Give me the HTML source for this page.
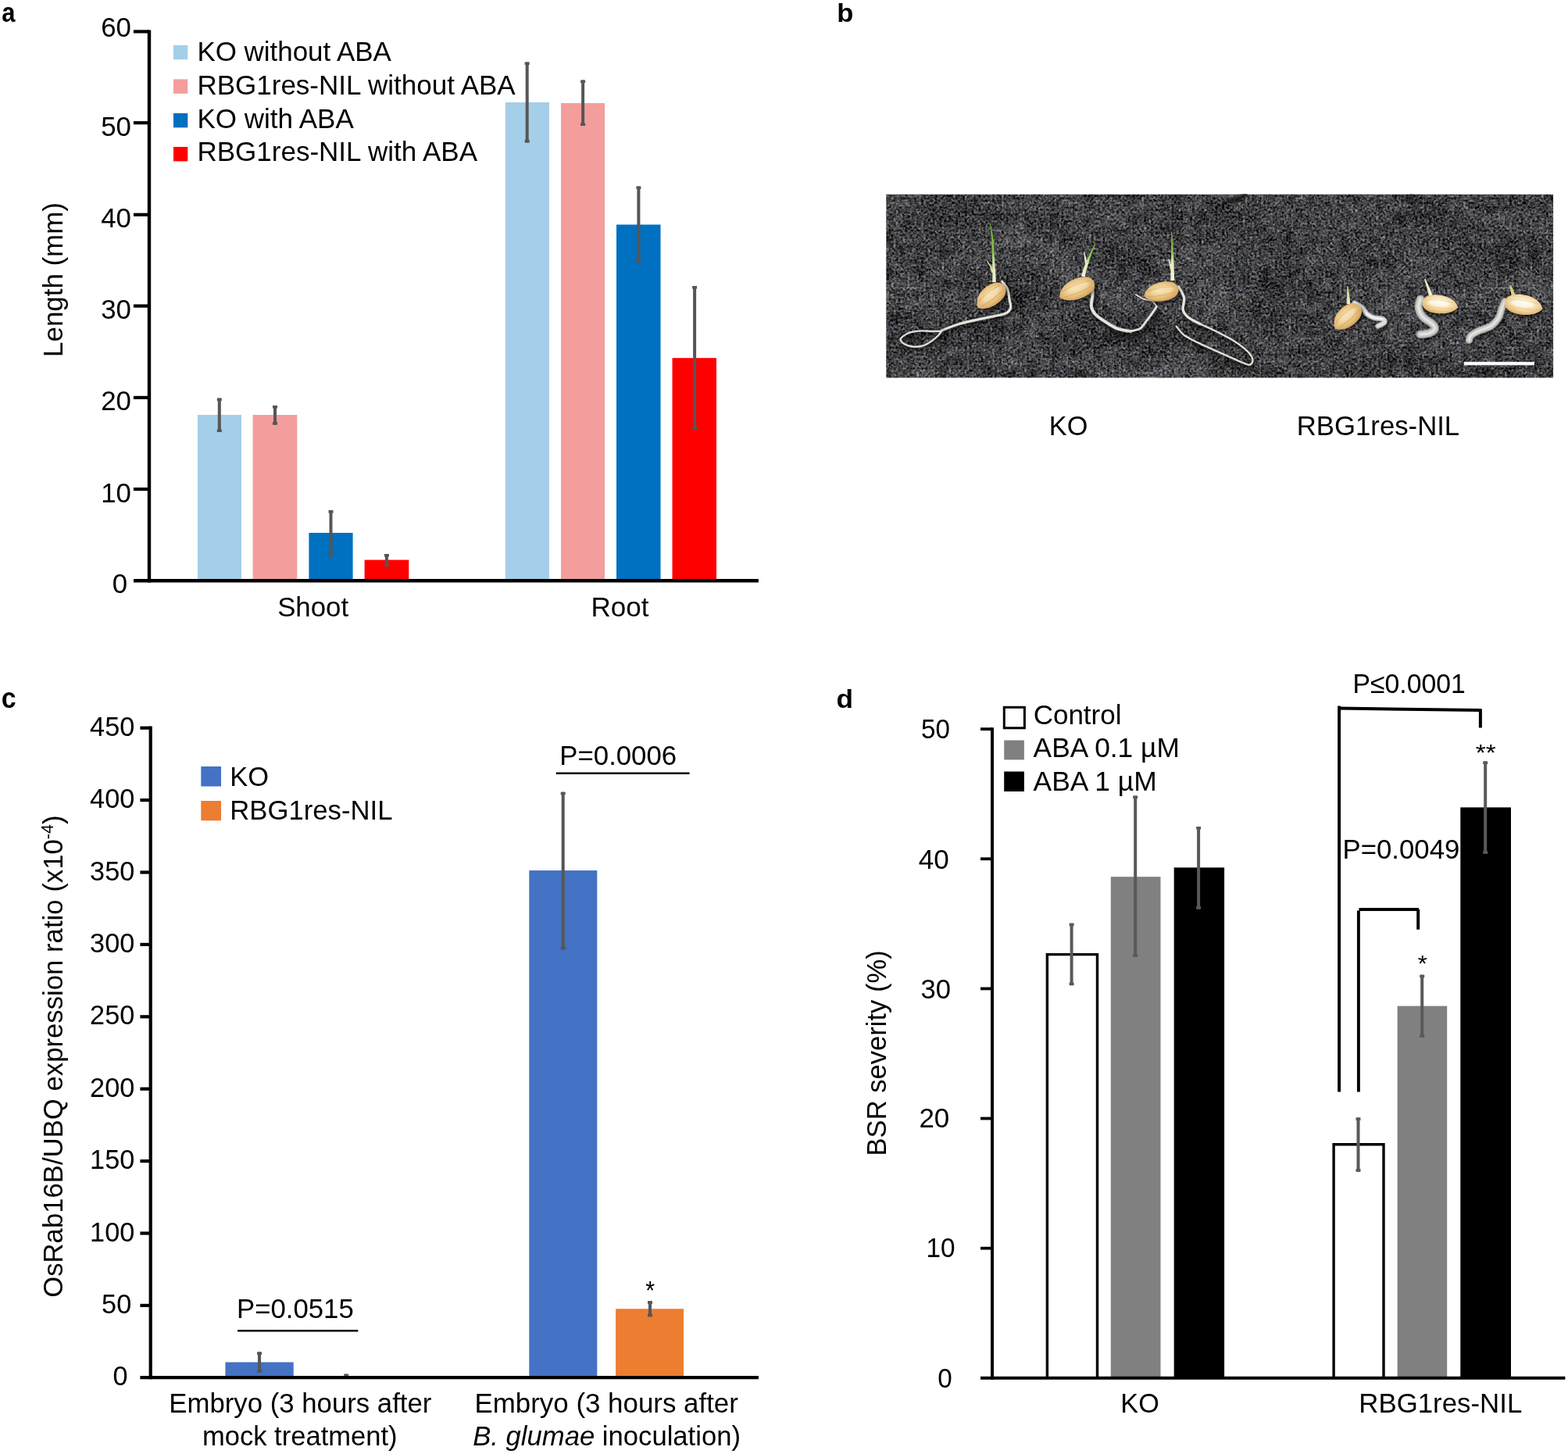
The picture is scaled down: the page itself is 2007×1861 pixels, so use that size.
<!DOCTYPE html>
<html lang="en">
<head>
<meta charset="utf-8">
<title>Figure</title>
<style>
html,body{margin:0;padding:0;background:#fff;}
body{width:2007px;height:1861px;overflow:hidden;}
svg{display:block;}
svg text{font-family:"Liberation Sans",sans-serif;fill:#000;}
</style>
</head>
<body>
<svg width="2007" height="1861" viewBox="0 0 2007 1861">
<defs>
<filter id="grain" x="0" y="0" width="100%" height="100%" color-interpolation-filters="sRGB">
<feTurbulence type="fractalNoise" baseFrequency="0.34" numOctaves="3" seed="11" result="fine"/>
<feColorMatrix in="fine" type="matrix" values="0.56 0.42 0.42 0 -0.450  0.42 0.56 0.42 0 -0.450  0.42 0.42 0.56 0 -0.440  0 0 0 0 1" result="finec"/>
<feTurbulence type="fractalNoise" baseFrequency="0.07" numOctaves="2" seed="5" result="med"/>
<feColorMatrix in="med" type="matrix" values="0.5 0.5 0 0 0  0.5 0.5 0 0 0  0.5 0.5 0 0 0  0 0 0 0 1" result="medc"/>
<feComposite in="finec" in2="medc" operator="arithmetic" k1="0" k2="1" k3="0.34" k4="-0.17" result="mix"/>
<feTurbulence type="fractalNoise" baseFrequency="0.012 0.02" numOctaves="2" seed="3" result="big"/>
<feColorMatrix in="big" type="matrix" values="0.5 0.5 0 0 0  0.5 0.5 0 0 0  0.5 0.5 0 0 0  0 0 0 0 1" result="bigc"/>
<feComposite in="mix" in2="bigc" operator="arithmetic" k1="0" k2="1" k3="0.22" k4="-0.11" result="mix2"/>
<feGaussianBlur in="mix2" stdDeviation="0.4"/>
</filter>

<filter id="soft0" x="-5%" y="-5%" width="110%" height="110%"><feGaussianBlur stdDeviation="0.55"/></filter>
<filter id="soft1" x="-30%" y="-30%" width="160%" height="160%"><feGaussianBlur stdDeviation="1.6"/></filter>
<filter id="soft2" x="-30%" y="-30%" width="160%" height="160%"><feGaussianBlur stdDeviation="2.2"/></filter>
<radialGradient id="seedD" cx="0.5" cy="0.42" r="0.62"><stop offset="0" stop-color="#f6e0ae"/><stop offset="0.55" stop-color="#eac585"/><stop offset="1" stop-color="#cf9c52"/></radialGradient>
<radialGradient id="seedL" cx="0.5" cy="0.4" r="0.62"><stop offset="0" stop-color="#fff8e8"/><stop offset="0.6" stop-color="#f3d9a4"/><stop offset="1" stop-color="#dcab62"/></radialGradient>
<linearGradient id="shoot1" gradientUnits="userSpaceOnUse" x1="0" y1="362" x2="0" y2="286"><stop offset="0" stop-color="#f1f0d4"/><stop offset="0.3" stop-color="#dfe8b4"/><stop offset="0.5" stop-color="#8fc550"/><stop offset="1" stop-color="#6fb232"/></linearGradient>
<linearGradient id="shoot2" gradientUnits="userSpaceOnUse" x1="0" y1="355" x2="0" y2="312"><stop offset="0" stop-color="#f1f0d8"/><stop offset="0.4" stop-color="#e4ebbc"/><stop offset="0.62" stop-color="#93c754"/><stop offset="1" stop-color="#72b436"/></linearGradient>
<linearGradient id="shoot3" gradientUnits="userSpaceOnUse" x1="0" y1="360" x2="0" y2="296"><stop offset="0" stop-color="#f3f2dc"/><stop offset="0.38" stop-color="#e6edc2"/><stop offset="0.55" stop-color="#92c653"/><stop offset="1" stop-color="#70b334"/></linearGradient>
<linearGradient id="shoot4" gradientUnits="userSpaceOnUse" x1="0" y1="389" x2="0" y2="366"><stop offset="0" stop-color="#eef0cc"/><stop offset="0.5" stop-color="#cfe09a"/><stop offset="1" stop-color="#a9cd6c"/></linearGradient>

<clipPath id="photoclip"><rect x="1134.3" y="248.7" width="853.8" height="234.9"/></clipPath>
</defs>
<rect width="2007" height="1861" fill="#fff"/>
<g id="panel-a">
<text transform="translate(2.27 27.65) scale(0.8841 1.0130)" font-size="35" font-weight="bold">a</text>
<rect x="252.9" y="531" width="56.1" height="212.2" fill="#A5CEE9"/>
<rect x="323.6" y="531" width="56.7" height="212.2" fill="#F39D9C"/>
<rect x="395.4" y="682" width="56.2" height="61.2" fill="#0070C0"/>
<rect x="466.6" y="716.6" width="56.7" height="26.6" fill="#FF0000"/>
<rect x="646.8" y="131" width="56.2" height="612.2" fill="#A5CEE9"/>
<rect x="718" y="132" width="56" height="611.2" fill="#F39D9C"/>
<rect x="789" y="287.5" width="56.5" height="455.7" fill="#0070C0"/>
<rect x="860.5" y="458.2" width="56.5" height="285" fill="#FF0000"/>
<line x1="280.8" y1="509.6" x2="280.8" y2="553" stroke="#565656" stroke-width="4"/>
<rect x="277.8" y="509.6" width="6" height="3.6" fill="#565656"/>
<rect x="277.8" y="549.4" width="6" height="3.6" fill="#565656"/>
<line x1="352" y1="519" x2="352" y2="543.7" stroke="#565656" stroke-width="4"/>
<rect x="349" y="519" width="6" height="3.6" fill="#565656"/>
<rect x="349" y="540.1" width="6" height="3.6" fill="#565656"/>
<line x1="423.5" y1="653.1" x2="423.5" y2="712.2" stroke="#565656" stroke-width="4"/>
<rect x="420.5" y="653.1" width="6" height="3.6" fill="#565656"/>
<rect x="420.5" y="708.6" width="6" height="3.6" fill="#565656"/>
<line x1="494.9" y1="709" x2="494.9" y2="725" stroke="#565656" stroke-width="4"/>
<rect x="491.9" y="709" width="6" height="3.6" fill="#565656"/>
<rect x="491.9" y="721.4" width="6" height="3.6" fill="#565656"/>
<line x1="674.7" y1="79.5" x2="674.7" y2="182.5" stroke="#565656" stroke-width="4"/>
<rect x="671.7" y="79.5" width="6" height="3.6" fill="#565656"/>
<rect x="671.7" y="178.9" width="6" height="3.6" fill="#565656"/>
<line x1="746.1" y1="102.5" x2="746.1" y2="161" stroke="#565656" stroke-width="4"/>
<rect x="743.1" y="102.5" width="6" height="3.6" fill="#565656"/>
<rect x="743.1" y="157.4" width="6" height="3.6" fill="#565656"/>
<line x1="817.4" y1="238.5" x2="817.4" y2="336.5" stroke="#565656" stroke-width="4"/>
<rect x="814.4" y="238.5" width="6" height="3.6" fill="#565656"/>
<rect x="814.4" y="332.9" width="6" height="3.6" fill="#565656"/>
<line x1="889.1" y1="366" x2="889.1" y2="549.8" stroke="#565656" stroke-width="4"/>
<rect x="886.1" y="366" width="6" height="3.6" fill="#565656"/>
<rect x="886.1" y="546.2" width="6" height="3.6" fill="#565656"/>
<line x1="191" y1="38.5" x2="191" y2="745.4" stroke="#000" stroke-width="4.4"/>
<line x1="171" y1="743.2" x2="970.9" y2="743.2" stroke="#000" stroke-width="4.4"/>
<text transform="translate(143.87 758.9) scale(0.9950 1)" font-size="35">0</text>
<line x1="170.9" y1="626.1" x2="191" y2="626.1" stroke="#000" stroke-width="4.2"/>
<text transform="translate(129.26 642.5) scale(0.9950 1)" font-size="35">10</text>
<line x1="170.9" y1="508.9" x2="191" y2="508.9" stroke="#000" stroke-width="4.2"/>
<text transform="translate(129.26 525.2) scale(0.9950 1)" font-size="35">20</text>
<line x1="170.9" y1="391.6" x2="191" y2="391.6" stroke="#000" stroke-width="4.2"/>
<text transform="translate(129.26 408.2) scale(0.9950 1)" font-size="35">30</text>
<line x1="170.9" y1="274.8" x2="191" y2="274.8" stroke="#000" stroke-width="4.2"/>
<text transform="translate(129.26 291.1) scale(0.9950 1)" font-size="35">40</text>
<line x1="170.9" y1="157.2" x2="191" y2="157.2" stroke="#000" stroke-width="4.2"/>
<text transform="translate(129.26 174.2) scale(0.9950 1)" font-size="35">50</text>
<line x1="170.9" y1="40.4" x2="191" y2="40.4" stroke="#000" stroke-width="4.2"/>
<text transform="translate(129.26 46.6) scale(0.9950 1)" font-size="35">60</text>
<rect x="222" y="57.8" width="18.3" height="18.4" fill="#A5CEE9"/>
<text transform="translate(252.41 77.8) scale(0.9841 1)" font-size="35.5">KO without ABA</text>
<rect x="222" y="101.4" width="18.3" height="18.4" fill="#F39D9C"/>
<text transform="translate(252.4 121) scale(0.9865 1)" font-size="35.5">RBG1res-NIL without ABA</text>
<rect x="222" y="144.9" width="18.3" height="18.4" fill="#0070C0"/>
<text transform="translate(252.4 163.6) scale(0.9859 1)" font-size="35.5">KO with ABA</text>
<rect x="222" y="188" width="18.3" height="18.4" fill="#FF0000"/>
<text transform="translate(252.4 206.1) scale(0.9867 1)" font-size="35.5">RBG1res-NIL with ABA</text>
<text transform="translate(355.13 788.7) scale(0.9815 1)" font-size="35.5">Shoot</text>
<text transform="translate(756.5 788.6) scale(0.9863 1)" font-size="35.5">Root</text>
<text transform="translate(80 456.89) rotate(-90) scale(0.9825 1)" font-size="35.5">Length (mm)</text>
</g>
<g id="panel-b">
<text transform="translate(1071.15 27.66) scale(0.9901 0.9757)" font-size="35" font-weight="bold">b</text>
<g clip-path="url(#photoclip)">
<rect x="1134.3" y="248.7" width="853.8" height="234.9" fill="#404040" filter="url(#grain)"/>
<g filter="url(#soft0)">
<path d="M1573 257 C1574.2 256.9 1577.5 257.2 1580 256.5 C1582.5 255.8 1585.7 254.2 1588 253 C1590.3 251.8 1593 250.1 1594 249.5" fill="none" stroke="#0c0c0c" stroke-width="5" stroke-linecap="round" stroke-linejoin="round" opacity="0.85" filter="url(#soft1)"/>
<path d="M1806 249 C1806.2 250.2 1806.8 253.5 1807.5 256 C1808.2 258.5 1809.6 262.7 1810 264" fill="none" stroke="#101010" stroke-width="3.5" stroke-linecap="round" stroke-linejoin="round" opacity="0.75" filter="url(#soft1)"/>
<path d="M1284.1 363.4 C1285.2 365 1289.3 369.1 1290.9 372.9 C1292.5 376.7 1292.9 382.3 1293.6 386.4 C1294.3 390.5 1295.8 394.4 1295 397.3 C1294.2 400.2 1292.2 402.3 1288.9 404 C1285.6 405.7 1281 406.1 1275.4 407.4 C1269.8 408.6 1262.8 409.8 1255.1 411.5 C1247.4 413.2 1236.1 415.7 1229.3 417.6 C1222.5 419.5 1218.5 421.4 1214.5 423 C1210.5 424.6 1206.6 426.3 1205 427" fill="none" stroke="#0a0a0a" stroke-width="5.9" stroke-linecap="round" stroke-linejoin="round" opacity="0.55" filter="url(#soft2)"/>
<path d="M1282.6 360.4 C1283.7 362 1287.8 366.1 1289.4 369.9 C1291 373.7 1291.4 379.3 1292.1 383.4 C1292.8 387.5 1294.3 391.4 1293.5 394.3 C1292.7 397.2 1290.7 399.3 1287.4 401 C1284.1 402.7 1279.5 403.1 1273.9 404.4 C1268.3 405.6 1261.3 406.8 1253.6 408.5 C1245.9 410.2 1234.6 412.7 1227.8 414.6 C1221 416.5 1217 418.4 1213 420 C1209 421.6 1205.1 423.3 1203.5 424" fill="none" stroke="#cfcfc8" stroke-width="3.4" stroke-linecap="round" stroke-linejoin="round"/>
<path d="M1282.6 360.4 C1283.7 362 1287.8 366.1 1289.4 369.9 C1291 373.7 1291.4 379.3 1292.1 383.4 C1292.8 387.5 1294.3 391.4 1293.5 394.3 C1292.7 397.2 1290.7 399.3 1287.4 401 C1284.1 402.7 1279.5 403.1 1273.9 404.4 C1268.3 405.6 1261.3 406.8 1253.6 408.5 C1245.9 410.2 1234.6 412.7 1227.8 414.6 C1221 416.5 1217 418.4 1213 420 C1209 421.6 1205.1 423.3 1203.5 424" fill="none" stroke="#f2f2ec" stroke-width="1.36" stroke-linecap="round" stroke-linejoin="round" opacity="0.9"/>
<path d="M1205 427 C1203.2 427 1198.3 427.1 1194.2 427 C1190.1 426.9 1185.1 426.2 1180.6 426.4 C1176.1 426.6 1170.9 427.3 1167.1 428.4 C1163.3 429.5 1159.8 431.5 1157.6 433.1 C1155.4 434.7 1154 436.2 1154.2 437.9 C1154.4 439.6 1156.4 441.8 1159 443.3 C1161.6 444.8 1165.8 446.4 1169.8 446.7 C1173.8 447 1179.2 446.6 1183.3 445.3 C1187.4 444.1 1191 441.3 1194.2 439.2 C1197.4 437.1 1200 434.8 1202.3 432.5 C1204.5 430.2 1206.8 426.8 1207.7 425.7" fill="none" stroke="#0a0a0a" stroke-width="4.9" stroke-linecap="round" stroke-linejoin="round" opacity="0.55" filter="url(#soft2)"/>
<path d="M1203.5 424 C1201.7 424 1196.8 424.1 1192.7 424 C1188.6 423.9 1183.6 423.2 1179.1 423.4 C1174.6 423.6 1169.4 424.3 1165.6 425.4 C1161.8 426.5 1158.2 428.5 1156.1 430.1 C1153.9 431.7 1152.5 433.2 1152.7 434.9 C1152.9 436.6 1154.9 438.8 1157.5 440.3 C1160.1 441.8 1164.2 443.4 1168.3 443.7 C1172.3 444 1177.7 443.6 1181.8 442.3 C1185.9 441.1 1189.5 438.3 1192.7 436.2 C1195.9 434.1 1198.5 431.8 1200.8 429.5 C1203 427.2 1205.3 423.8 1206.2 422.7" fill="none" stroke="#cfcfc8" stroke-width="2.4" stroke-linecap="round" stroke-linejoin="round"/>
<path d="M1203.5 424 C1201.7 424 1196.8 424.1 1192.7 424 C1188.6 423.9 1183.6 423.2 1179.1 423.4 C1174.6 423.6 1169.4 424.3 1165.6 425.4 C1161.8 426.5 1158.2 428.5 1156.1 430.1 C1153.9 431.7 1152.5 433.2 1152.7 434.9 C1152.9 436.6 1154.9 438.8 1157.5 440.3 C1160.1 441.8 1164.2 443.4 1168.3 443.7 C1172.3 444 1177.7 443.6 1181.8 442.3 C1185.9 441.1 1189.5 438.3 1192.7 436.2 C1195.9 434.1 1198.5 431.8 1200.8 429.5 C1203 427.2 1205.3 423.8 1206.2 422.7" fill="none" stroke="#f2f2ec" stroke-width="0.96" stroke-linecap="round" stroke-linejoin="round" opacity="0.9"/>
<path d="M1272.1 348 L1268.9 340.5 L1263.4 333.3 L1262.6 333.9 L1267.1 341.5 L1269.1 349Z" fill="#cfe0a0"/>
<path d="M1274.9 360.9 L1274.1 347.9 L1273.2 334.6 L1271.8 307.9 L1269.8 295.9 L1267.5 285.9 L1266.7 286.1 L1268.2 296.1 L1269.4 308.1 L1270.2 334.8 L1270.3 348.1 L1270.3 361.1Z" fill="url(#shoot1)"/>
<g transform="translate(1268.4 378.7) rotate(-37.6)">
<ellipse cx="1.5" cy="3.5" rx="21.1" ry="12.2" fill="#000" opacity="0.5" filter="url(#soft2)"/>
<path d="M-22.8 1.5 C-18.3 -9.6 -7.5 -13.1 3.2 -12.8 C15 -12.5 21.5 -7 21.5 0 C21.5 7.7 14 12.8 2.1 12.8 C-8.6 12.8 -18.3 9 -22.8 1.5Z" fill="url(#seedD)"/>
<path d="M-17.2 -3.8 Q0 -7.3 17.2 -3.8" fill="none" stroke="#c8975a" stroke-width="1.1" opacity="0.6"/>
<path d="M-17.2 3.4 Q0 6.6 17.2 3.4" fill="none" stroke="#c8975a" stroke-width="1.1" opacity="0.6"/>
<ellipse cx="1.1" cy="-1.5" rx="13.3" ry="4.4" fill="#f7e3b8" opacity="0.7" filter="url(#soft1)"/>
</g>
<path d="M1401.5 370.3 C1401.4 372.6 1401.1 379.6 1400.8 384.3 C1400.5 389 1398.8 394.4 1399.4 398.4 C1400 402.4 1401.6 405.1 1404.3 408.2 C1407 411.2 1410.9 413.6 1415.6 416.7 C1420.3 419.8 1426.8 424.3 1432.4 426.5 C1438 428.7 1446.5 429.4 1449.3 430" fill="none" stroke="#0a0a0a" stroke-width="6.7" stroke-linecap="round" stroke-linejoin="round" opacity="0.55" filter="url(#soft2)"/>
<path d="M1399 364.3 C1398.9 366.6 1398.6 373.6 1398.3 378.3 C1398 383 1396.3 388.4 1396.9 392.4 C1397.5 396.4 1399.1 399.1 1401.8 402.2 C1404.5 405.2 1408.4 407.6 1413.1 410.7 C1417.8 413.8 1424.3 418.3 1429.9 420.5 C1435.5 422.7 1444 423.4 1446.8 424" fill="none" stroke="#cfcfc8" stroke-width="4.2" stroke-linecap="round" stroke-linejoin="round"/>
<path d="M1399 364.3 C1398.9 366.6 1398.6 373.6 1398.3 378.3 C1398 383 1396.3 388.4 1396.9 392.4 C1397.5 396.4 1399.1 399.1 1401.8 402.2 C1404.5 405.2 1408.4 407.6 1413.1 410.7 C1417.8 413.8 1424.3 418.3 1429.9 420.5 C1435.5 422.7 1444 423.4 1446.8 424" fill="none" stroke="#f2f2ec" stroke-width="1.6800000000000002" stroke-linecap="round" stroke-linejoin="round" opacity="0.9"/>
<path d="M1449.3 430 C1451.4 429.4 1458.6 428.5 1461.9 426.5 C1465.2 424.5 1466.3 421.4 1468.9 418.1 C1471.5 414.8 1475.1 410.1 1477.4 406.8 C1479.8 403.5 1482.1 399.8 1483 398.4" fill="none" stroke="#0a0a0a" stroke-width="5.5" stroke-linecap="round" stroke-linejoin="round" opacity="0.55" filter="url(#soft2)"/>
<path d="M1446.8 424 C1448.9 423.4 1456.1 422.5 1459.4 420.5 C1462.7 418.5 1463.8 415.4 1466.4 412.1 C1469 408.8 1472.6 404.1 1474.9 400.8 C1477.2 397.5 1479.6 393.8 1480.5 392.4" fill="none" stroke="#cfcfc8" stroke-width="3.0" stroke-linecap="round" stroke-linejoin="round"/>
<path d="M1446.8 424 C1448.9 423.4 1456.1 422.5 1459.4 420.5 C1462.7 418.5 1463.8 415.4 1466.4 412.1 C1469 408.8 1472.6 404.1 1474.9 400.8 C1477.2 397.5 1479.6 393.8 1480.5 392.4" fill="none" stroke="#f2f2ec" stroke-width="1.2000000000000002" stroke-linecap="round" stroke-linejoin="round" opacity="0.9"/>
<path d="M1480.5 392.4 C1479.6 391.2 1477.7 387 1474.9 385.4 C1472.1 383.8 1467.1 384 1463.6 382.6 C1460.1 381.2 1455.4 377.8 1453.8 376.9" fill="none" stroke="#cfcfc8" stroke-width="1.8" stroke-linecap="round" stroke-linejoin="round"/>
<path d="M1480.5 392.4 C1479.6 391.2 1477.7 387 1474.9 385.4 C1472.1 383.8 1467.1 384 1463.6 382.6 C1460.1 381.2 1455.4 377.8 1453.8 376.9" fill="none" stroke="#f2f2ec" stroke-width="0.8" stroke-linecap="round" stroke-linejoin="round" opacity="0.9"/>
<path d="M1392 337.7 L1390 329.8 L1388.1 322.2 L1387.1 322.4 L1388 330.2 L1389 338.3Z" fill="#eef0d2"/>
<path d="M1388.6 354.6 L1390.6 345.6 L1393.6 335.4 L1397.1 325.5 L1400.1 317.3 L1402.2 312.2 L1401.4 311.8 L1398.7 316.7 L1394.9 324.5 L1390.4 334.2 L1386.6 344.4 L1383.8 353.4Z" fill="url(#shoot2)"/>
<g transform="translate(1378.6 369.9) rotate(-22)">
<ellipse cx="1.5" cy="3.5" rx="23" ry="12.3" fill="#000" opacity="0.5" filter="url(#soft2)"/>
<path d="M-24.9 1.6 C-20 -9.8 -8.2 -13.3 3.5 -13 C16.4 -12.7 23.5 -7.2 23.5 0 C23.5 7.8 15.3 13 2.4 13 C-9.4 13 -20 9.1 -24.9 1.6Z" fill="url(#seedD)"/>
<path d="M-18.8 -3.8 Q0 -7.4 18.8 -3.8" fill="none" stroke="#c8975a" stroke-width="1.1" opacity="0.6"/>
<path d="M-18.8 3.5 Q0 6.7 18.8 3.5" fill="none" stroke="#c8975a" stroke-width="1.1" opacity="0.6"/>
<ellipse cx="1.2" cy="-1.6" rx="14.6" ry="4.4" fill="#f7e3b8" opacity="0.7" filter="url(#soft1)"/>
</g>
<path d="M1510.6 372.1 C1511.8 374.5 1516.7 381.3 1517.6 386.2 C1518.5 391.1 1515.3 397.4 1516.2 401.6 C1517.1 405.8 1519.5 408.3 1523.2 411.4 C1527 414.4 1536.1 418.5 1538.7 419.9" fill="none" stroke="#0a0a0a" stroke-width="6.1" stroke-linecap="round" stroke-linejoin="round" opacity="0.55" filter="url(#soft2)"/>
<path d="M1508.6 367.1 C1509.8 369.5 1514.7 376.3 1515.6 381.2 C1516.5 386.1 1513.3 392.4 1514.2 396.6 C1515.1 400.8 1517.5 403.3 1521.2 406.4 C1525 409.4 1534.1 413.5 1536.7 414.9" fill="none" stroke="#cfcfc8" stroke-width="3.6" stroke-linecap="round" stroke-linejoin="round"/>
<path d="M1508.6 367.1 C1509.8 369.5 1514.7 376.3 1515.6 381.2 C1516.5 386.1 1513.3 392.4 1514.2 396.6 C1515.1 400.8 1517.5 403.3 1521.2 406.4 C1525 409.4 1534.1 413.5 1536.7 414.9" fill="none" stroke="#f2f2ec" stroke-width="1.4400000000000002" stroke-linecap="round" stroke-linejoin="round" opacity="0.9"/>
<path d="M1538.7 419.9 C1542.2 421.5 1552.8 426.2 1559.8 429.7 C1566.8 433.2 1574.5 436.9 1580.8 440.9 C1587.1 444.9 1593.6 449.6 1597.7 453.6 C1601.8 457.6 1604.7 461.8 1605.4 464.8 C1606.1 467.8 1604.1 471.1 1601.9 471.8 C1599.7 472.5 1597.9 471.3 1592.1 469 C1586.2 466.7 1575.7 461.8 1566.8 457.8 C1557.9 453.8 1546.9 449.2 1538.7 445.2 C1530.5 441.2 1522.8 437.6 1517.6 433.9 C1512.4 430.1 1509.4 424.6 1507.8 422.7" fill="none" stroke="#0a0a0a" stroke-width="4.9" stroke-linecap="round" stroke-linejoin="round" opacity="0.55" filter="url(#soft2)"/>
<path d="M1536.7 414.9 C1540.2 416.5 1550.8 421.2 1557.8 424.7 C1564.8 428.2 1572.5 431.9 1578.8 435.9 C1585.1 439.9 1591.6 444.6 1595.7 448.6 C1599.8 452.6 1602.7 456.8 1603.4 459.8 C1604.1 462.8 1602.1 466.1 1599.9 466.8 C1597.7 467.5 1595.9 466.3 1590.1 464 C1584.2 461.7 1573.7 456.8 1564.8 452.8 C1555.9 448.8 1544.9 444.2 1536.7 440.2 C1528.5 436.2 1520.8 432.6 1515.6 428.9 C1510.4 425.1 1507.4 419.6 1505.8 417.7" fill="none" stroke="#cfcfc8" stroke-width="2.4" stroke-linecap="round" stroke-linejoin="round"/>
<path d="M1536.7 414.9 C1540.2 416.5 1550.8 421.2 1557.8 424.7 C1564.8 428.2 1572.5 431.9 1578.8 435.9 C1585.1 439.9 1591.6 444.6 1595.7 448.6 C1599.8 452.6 1602.7 456.8 1603.4 459.8 C1604.1 462.8 1602.1 466.1 1599.9 466.8 C1597.7 467.5 1595.9 466.3 1590.1 464 C1584.2 461.7 1573.7 456.8 1564.8 452.8 C1555.9 448.8 1544.9 444.2 1536.7 440.2 C1528.5 436.2 1520.8 432.6 1515.6 428.9 C1510.4 425.1 1507.4 419.6 1505.8 417.7" fill="none" stroke="#f2f2ec" stroke-width="0.96" stroke-linecap="round" stroke-linejoin="round" opacity="0.9"/>
<path d="M1501 344.6 L1498.6 337.7 L1496.5 331.4 L1495.5 331.6 L1496.6 338.3 L1498.2 345.4Z" fill="#e4ecc0"/>
<path d="M1503.4 358.9 L1502.7 345 L1502.3 331 L1501.6 318 L1500.8 306 L1499.9 296.2 L1499.1 296.2 L1499.2 306 L1499.2 318 L1498.9 331 L1498.5 345 L1498.4 359.1Z" fill="url(#shoot3)"/>
<g transform="translate(1486.8 373.4) rotate(-10)">
<ellipse cx="1.5" cy="3.5" rx="21.6" ry="11.6" fill="#000" opacity="0.5" filter="url(#soft2)"/>
<path d="M-23.3 1.5 C-18.7 -9.1 -7.7 -12.4 3.3 -12.2 C15.4 -12 22 -6.7 22 0 C22 7.3 14.3 12.2 2.2 12.2 C-8.8 12.2 -18.7 8.5 -23.3 1.5Z" fill="url(#seedD)"/>
<path d="M-17.6 -3.6 Q0 -6.9 17.6 -3.6" fill="none" stroke="#c8975a" stroke-width="1.1" opacity="0.6"/>
<path d="M-17.6 3.2 Q0 6.3 17.6 3.2" fill="none" stroke="#c8975a" stroke-width="1.1" opacity="0.6"/>
<ellipse cx="1.1" cy="-1.5" rx="13.6" ry="4.1" fill="#f7e3b8" opacity="0.7" filter="url(#soft1)"/>
</g>
<path d="M1735.2 391 C1736.7 391.9 1741.5 393.8 1744.2 396.2 C1747 398.6 1749 403 1751.7 405.3 C1754.5 407.6 1757.4 408.8 1760.7 409.8 C1764 410.8 1769.2 410.3 1771.3 411.3 C1773.4 412.3 1774.5 414.3 1773.5 415.8 C1772.5 417.3 1766.7 419.6 1765.3 420.3" fill="none" stroke="#0a0a0a" stroke-width="9" stroke-linecap="round" stroke-linejoin="round" opacity="0.45" filter="url(#soft2)"/>
<path d="M1733.7 388 C1735.2 388.9 1740 390.8 1742.7 393.2 C1745.5 395.6 1747.5 400 1750.2 402.3 C1753 404.6 1755.9 405.8 1759.2 406.8 C1762.5 407.8 1767.7 407.3 1769.8 408.3 C1771.9 409.3 1773 411.3 1772 412.8 C1771 414.3 1765.2 416.6 1763.8 417.3" fill="none" stroke="#bdbdba" stroke-width="7.0" stroke-linecap="round" stroke-linejoin="round" opacity="0.85"/>
<path d="M1733.7 388 C1735.2 388.9 1740 390.8 1742.7 393.2 C1745.5 395.6 1747.5 400 1750.2 402.3 C1753 404.6 1755.9 405.8 1759.2 406.8 C1762.5 407.8 1767.7 407.3 1769.8 408.3 C1771.9 409.3 1773 411.3 1772 412.8 C1771 414.3 1765.2 416.6 1763.8 417.3" fill="none" stroke="#e4e4e1" stroke-width="4.6" stroke-linecap="round" stroke-linejoin="round" opacity="0.9"/>
<path d="M1733.7 388 C1735.2 388.9 1740 390.8 1742.7 393.2 C1745.5 395.6 1747.5 400 1750.2 402.3 C1753 404.6 1755.9 405.8 1759.2 406.8 C1762.5 407.8 1768 408.1 1769.8 408.3" fill="none" stroke="#ffffff" stroke-width="1.6" stroke-linecap="round" stroke-linejoin="round" opacity="0.8"/>
<path d="M1728.4 388.9 L1727.5 379.9 L1726.5 371.9 L1725.5 366.1 L1724.3 366.1 L1724.1 372.1 L1724.1 380.1 L1723.8 389.1Z" fill="url(#shoot4)"/>
<g transform="translate(1724.6 405.3) rotate(-40.6)">
<ellipse cx="1.5" cy="3.5" rx="20.4" ry="12.2" fill="#000" opacity="0.5" filter="url(#soft2)"/>
<path d="M-22 1.5 C-17.7 -9.6 -7.3 -13.1 3.1 -12.8 C14.6 -12.5 20.8 -7 20.8 0 C20.8 7.7 13.5 12.8 2.1 12.8 C-8.3 12.8 -17.7 9 -22 1.5Z" fill="url(#seedD)"/>
<path d="M-16.6 -3.8 Q0 -7.3 16.6 -3.8" fill="none" stroke="#c8975a" stroke-width="1.1" opacity="0.6"/>
<path d="M-16.6 3.4 Q0 6.6 16.6 3.4" fill="none" stroke="#c8975a" stroke-width="1.1" opacity="0.6"/>
<ellipse cx="1" cy="-1.5" rx="12.9" ry="4.4" fill="#f7e3b8" opacity="0.7" filter="url(#soft1)"/>
</g>
<path d="M1819.5 385.7 C1819.1 387.4 1816.7 392.4 1817.2 396.2 C1817.7 400 1819.6 404.8 1822.5 408.3 C1825.4 411.8 1831.9 414.8 1834.5 417.3 C1837.1 419.8 1838.8 421.3 1838.3 423.3 C1837.8 425.3 1834.6 428 1831.5 429.3 C1828.4 430.6 1821.5 430.6 1819.5 430.9" fill="none" stroke="#0a0a0a" stroke-width="12" stroke-linecap="round" stroke-linejoin="round" opacity="0.4" filter="url(#soft2)"/>
<path d="M1818 382.7 C1817.6 384.4 1815.2 389.4 1815.7 393.2 C1816.2 397 1818.1 401.8 1821 405.3 C1823.9 408.8 1830.4 411.8 1833 414.3 C1835.6 416.8 1837.3 418.3 1836.8 420.3 C1836.3 422.3 1833.1 425 1830 426.3 C1826.9 427.6 1820 427.6 1818 427.9" fill="none" stroke="#b4b4b1" stroke-width="10.5" stroke-linecap="round" stroke-linejoin="round" opacity="0.8"/>
<path d="M1818 382.7 C1817.6 384.4 1815.2 389.4 1815.7 393.2 C1816.2 397 1818.1 401.8 1821 405.3 C1823.9 408.8 1830.4 411.8 1833 414.3 C1835.6 416.8 1837.3 418.3 1836.8 420.3 C1836.3 422.3 1833.1 425 1830 426.3 C1826.9 427.6 1820 427.6 1818 427.9" fill="none" stroke="#d4d4d1" stroke-width="7.5" stroke-linecap="round" stroke-linejoin="round" opacity="0.85"/>
<path d="M1818 382.7 C1817.6 384.4 1815.2 389.4 1815.7 393.2 C1816.2 397 1818.1 401.8 1821 405.3 C1823.9 408.8 1830.4 411.8 1833 414.3 C1835.6 416.8 1837.3 418.3 1836.8 420.3 C1836.3 422.3 1833.1 425 1830 426.3 C1826.9 427.6 1820 427.6 1818 427.9" fill="none" stroke="#f1f1ef" stroke-width="2.6" stroke-linecap="round" stroke-linejoin="round" opacity="0.7"/>
<path d="M1833.8 378.3 L1830.7 370.4 L1827.1 362.6 L1824.3 356.6 L1823.1 357 L1824.9 363.4 L1827.3 371.6 L1829.2 379.7Z" fill="#f1f1cf"/>
<g transform="translate(1842.8 389.5) rotate(6)">
<ellipse cx="1.5" cy="3.5" rx="22.1" ry="11.2" fill="#000" opacity="0.5" filter="url(#soft2)"/>
<path d="M23.9 1.4 C19.1 -8.9 7.9 -12 -3.4 -11.8 C-15.7 -11.6 -22.5 -6.5 -22.5 0 C-22.5 7.1 -14.6 11.8 -2.2 11.8 C9 11.8 19.1 8.3 23.9 1.4Z" fill="url(#seedL)"/>
<path d="M-18 -3.5 Q0 -6.7 18 -3.5" fill="none" stroke="#e2bd80" stroke-width="1.1" opacity="0.6"/>
<path d="M-18 3.1 Q0 6.1 18 3.1" fill="none" stroke="#e2bd80" stroke-width="1.1" opacity="0.6"/>
<ellipse cx="-1.1" cy="-1.4" rx="13.9" ry="4" fill="#fffaf0" opacity="0.85" filter="url(#soft1)"/>
</g>
<path d="M1927.8 388.7 C1927 390.4 1924.7 395.6 1923.3 399.2 C1921.9 402.8 1921.8 406.5 1919.5 410 C1917.2 413.5 1913.9 417.6 1909.8 420.3 C1905.7 423 1899 424.3 1894.7 426.3 C1890.4 428.3 1886.3 430.4 1884.2 432.4 C1882.1 434.4 1882.3 437.4 1881.9 438.4" fill="none" stroke="#0a0a0a" stroke-width="11" stroke-linecap="round" stroke-linejoin="round" opacity="0.4" filter="url(#soft2)"/>
<path d="M1926.3 385.7 C1925.5 387.4 1923.2 392.6 1921.8 396.2 C1920.4 399.8 1920.2 403.5 1918 407 C1915.8 410.5 1912.4 414.6 1908.3 417.3 C1904.2 420 1897.5 421.3 1893.2 423.3 C1888.9 425.3 1884.8 427.4 1882.7 429.4 C1880.6 431.4 1880.8 434.4 1880.4 435.4" fill="none" stroke="#b4b4b1" stroke-width="9.5" stroke-linecap="round" stroke-linejoin="round" opacity="0.8"/>
<path d="M1926.3 385.7 C1925.5 387.4 1923.2 392.6 1921.8 396.2 C1920.4 399.8 1920.2 403.5 1918 407 C1915.8 410.5 1912.4 414.6 1908.3 417.3 C1904.2 420 1897.5 421.3 1893.2 423.3 C1888.9 425.3 1884.8 427.4 1882.7 429.4 C1880.6 431.4 1880.8 434.4 1880.4 435.4" fill="none" stroke="#d4d4d1" stroke-width="6.8" stroke-linecap="round" stroke-linejoin="round" opacity="0.85"/>
<path d="M1926.3 385.7 C1925.5 387.4 1923.2 392.6 1921.8 396.2 C1920.4 399.8 1920.2 403.5 1918 407 C1915.8 410.5 1912.4 414.6 1908.3 417.3 C1904.2 420 1897.5 421.3 1893.2 423.3 C1888.9 425.3 1884.8 427.4 1882.7 429.4 C1880.6 431.4 1880.8 434.4 1880.4 435.4" fill="none" stroke="#f1f1ef" stroke-width="2.4" stroke-linecap="round" stroke-linejoin="round" opacity="0.7"/>
<path d="M1939.6 377.2 L1937.4 372.4 L1935.5 368.6 L1933.9 365.2 L1932.3 365.6 L1932.9 369.4 L1933.8 373.6 L1934.8 378.8Z" fill="#cdd67e"/>
<g transform="translate(1949.7 390.2) rotate(8)">
<ellipse cx="1.5" cy="3.5" rx="23.5" ry="12.2" fill="#000" opacity="0.5" filter="url(#soft2)"/>
<path d="M25.4 1.5 C20.4 -9.6 8.4 -13.1 -3.6 -12.8 C-16.8 -12.5 -24 -7 -24 0 C-24 7.7 -15.6 12.8 -2.4 12.8 C9.6 12.8 20.4 9 25.4 1.5Z" fill="url(#seedL)"/>
<path d="M-19.2 -3.8 Q0 -7.3 19.2 -3.8" fill="none" stroke="#e2bd80" stroke-width="1.1" opacity="0.6"/>
<path d="M-19.2 3.4 Q0 6.6 19.2 3.4" fill="none" stroke="#e2bd80" stroke-width="1.1" opacity="0.6"/>
<ellipse cx="-1.2" cy="-1.5" rx="14.9" ry="4.4" fill="#fffaf0" opacity="0.85" filter="url(#soft1)"/>
</g>
</g>
<rect x="1874" y="463.2" width="90" height="4.2" fill="#ffffff"/>
</g>
<text transform="translate(1342.76 556.9) scale(0.9661 1)" font-size="35.5">KO</text>
<text transform="translate(1659.72 556.9) scale(0.9790 1)" font-size="35.5">RBG1res-NIL</text>
</g>
<g id="panel-c">
<text transform="translate(1.85 905.94) scale(0.9661 1.0390)" font-size="35" font-weight="bold">c</text>
<rect x="288.4" y="1743.5" width="87.3" height="19.4" fill="#4472C4"/>
<rect x="677.3" y="1114.1" width="87" height="648.8" fill="#4472C4"/>
<rect x="788.1" y="1675.2" width="86.9" height="87.7" fill="#ED7D31"/>
<line x1="332" y1="1730.4" x2="332" y2="1756.9" stroke="#565656" stroke-width="4"/>
<rect x="329" y="1730.4" width="6" height="3.6" fill="#565656"/>
<rect x="329" y="1753.3" width="6" height="3.6" fill="#565656"/>
<line x1="443.2" y1="1758.6" x2="443.2" y2="1762" stroke="#565656" stroke-width="4"/>
<rect x="440.2" y="1758.6" width="6" height="1.7" fill="#565656"/>
<rect x="440.2" y="1760.3" width="6" height="1.7" fill="#565656"/>
<line x1="720.7" y1="1013.7" x2="720.7" y2="1215.6" stroke="#565656" stroke-width="4"/>
<rect x="717.7" y="1013.7" width="6" height="3.6" fill="#565656"/>
<rect x="717.7" y="1212" width="6" height="3.6" fill="#565656"/>
<line x1="832" y1="1665.2" x2="832" y2="1685.2" stroke="#565656" stroke-width="4"/>
<rect x="829" y="1665.2" width="6" height="3.6" fill="#565656"/>
<rect x="829" y="1681.6" width="6" height="3.6" fill="#565656"/>
<line x1="192.7" y1="929.5" x2="192.7" y2="1765.3" stroke="#000" stroke-width="4.2"/>
<line x1="179.4" y1="1763.2" x2="970.9" y2="1763.2" stroke="#000" stroke-width="4.2"/>
<text transform="translate(144.47 1773.3) scale(0.9780 1)" font-size="35">0</text>
<line x1="179.4" y1="1670.9" x2="192.7" y2="1670.9" stroke="#000" stroke-width="4.2"/>
<text transform="translate(130.1 1681) scale(0.9780 1)" font-size="35">50</text>
<line x1="179.4" y1="1578.5" x2="192.7" y2="1578.5" stroke="#000" stroke-width="4.2"/>
<text transform="translate(115.11 1588.6) scale(0.9780 1)" font-size="35">100</text>
<line x1="179.4" y1="1486.1" x2="192.7" y2="1486.1" stroke="#000" stroke-width="4.2"/>
<text transform="translate(115.11 1496.2) scale(0.9780 1)" font-size="35">150</text>
<line x1="179.4" y1="1393.7" x2="192.7" y2="1393.7" stroke="#000" stroke-width="4.2"/>
<text transform="translate(115.11 1403.8) scale(0.9780 1)" font-size="35">200</text>
<line x1="179.4" y1="1301.3" x2="192.7" y2="1301.3" stroke="#000" stroke-width="4.2"/>
<text transform="translate(115.11 1311.4) scale(0.9780 1)" font-size="35">250</text>
<line x1="179.4" y1="1208.9" x2="192.7" y2="1208.9" stroke="#000" stroke-width="4.2"/>
<text transform="translate(115.11 1219) scale(0.9780 1)" font-size="35">300</text>
<line x1="179.4" y1="1116.5" x2="192.7" y2="1116.5" stroke="#000" stroke-width="4.2"/>
<text transform="translate(115.11 1126.6) scale(0.9780 1)" font-size="35">350</text>
<line x1="179.4" y1="1024.1" x2="192.7" y2="1024.1" stroke="#000" stroke-width="4.2"/>
<text transform="translate(115.11 1034.2) scale(0.9780 1)" font-size="35">400</text>
<line x1="179.4" y1="931.7" x2="192.7" y2="931.7" stroke="#000" stroke-width="4.2"/>
<text transform="translate(115.11 941.8) scale(0.9780 1)" font-size="35">450</text>
<rect x="257.3" y="981" width="25.7" height="25.5" fill="#4472C4"/>
<rect x="257.3" y="1025" width="25.7" height="25.3" fill="#ED7D31"/>
<text transform="translate(294.24 1005.5) scale(0.9704 1)" font-size="35.5">KO</text>
<text transform="translate(294.22 1049.3) scale(0.9775 1)" font-size="35.5">RBG1res-NIL</text>
<text transform="translate(716.32 979.3) scale(0.9794 1)" font-size="35.5">P=0.0006</text>
<line x1="711.8" y1="989.8" x2="882.6" y2="989.8" stroke="#000" stroke-width="2.6"/>
<text transform="translate(303.02 1687.3) scale(0.9789 1)" font-size="35.5">P=0.0515</text>
<line x1="304.1" y1="1703.3" x2="458.3" y2="1703.3" stroke="#000" stroke-width="2.5"/>
<text transform="translate(826.24 1662.87) scale(0.8692 0.9306)" font-size="35">*</text>
<text transform="translate(216.32 1807.7) scale(0.9791 1)" font-size="35.5">Embryo (3 hours after</text>
<text transform="translate(258.95 1849.6) scale(0.9739 1)" font-size="35.5">mock treatment)</text>
<text transform="translate(607.51 1807.7) scale(0.9832 1)" font-size="35.5">Embryo (3 hours after</text>
<text transform="translate(605.26 1849.7) scale(0.9761 1)" font-size="35.5"><tspan font-style="italic">B. glumae</tspan> inoculation)</text>
<text transform="translate(80 1660.86) rotate(-90) scale(0.9781 1)" font-size="35.5">OsRab16B/UBQ expression ratio (x10<tspan font-size="0.62em" dy="-0.56em">-4</tspan><tspan dy="0.3472em">)</tspan></text>
</g>
<g id="panel-d">
<text transform="translate(1070.59 905.86) scale(1.0071 0.9679)" font-size="35" font-weight="bold">d</text>
<path d="M1340.4 1763.8 V1221.6 H1404.5 V1763.8" fill="#fff" stroke="#000" stroke-width="3.4"/>
<rect x="1421.8" y="1122.2" width="63.7" height="641.6" fill="#808080"/>
<rect x="1502.7" y="1110.4" width="64.4" height="653.4" fill="#000"/>
<path d="M1707.1 1763.8 V1464.8 H1771 V1763.8" fill="#fff" stroke="#000" stroke-width="3.4"/>
<rect x="1788.6" y="1287.6" width="63.6" height="476.2" fill="#808080"/>
<rect x="1869.3" y="1033.4" width="64.7" height="730.4" fill="#000"/>
<line x1="1371.6" y1="1181.7" x2="1371.6" y2="1261.2" stroke="#595959" stroke-width="4"/>
<rect x="1368.6" y="1181.7" width="6" height="3.6" fill="#595959"/>
<rect x="1368.6" y="1257.6" width="6" height="3.6" fill="#595959"/>
<line x1="1453.2" y1="1018.5" x2="1453.2" y2="1224.7" stroke="#595959" stroke-width="4"/>
<rect x="1450.2" y="1018.5" width="6" height="3.6" fill="#595959"/>
<rect x="1450.2" y="1221.1" width="6" height="3.6" fill="#595959"/>
<line x1="1534.1" y1="1058" x2="1534.1" y2="1163.6" stroke="#595959" stroke-width="4"/>
<rect x="1531.1" y="1058" width="6" height="3.6" fill="#595959"/>
<rect x="1531.1" y="1160" width="6" height="3.6" fill="#595959"/>
<line x1="1738.5" y1="1430.4" x2="1738.5" y2="1499.7" stroke="#595959" stroke-width="4"/>
<rect x="1735.5" y="1430.4" width="6" height="3.6" fill="#595959"/>
<rect x="1735.5" y="1496.1" width="6" height="3.6" fill="#595959"/>
<line x1="1820.2" y1="1247.7" x2="1820.2" y2="1327.8" stroke="#595959" stroke-width="4"/>
<rect x="1817.2" y="1247.7" width="6" height="3.6" fill="#595959"/>
<rect x="1817.2" y="1324.2" width="6" height="3.6" fill="#595959"/>
<line x1="1901.2" y1="974.4" x2="1901.2" y2="1092.8" stroke="#595959" stroke-width="4"/>
<rect x="1898.2" y="974.4" width="6" height="3.6" fill="#595959"/>
<rect x="1898.2" y="1089.2" width="6" height="3.6" fill="#595959"/>
<line x1="1270" y1="931.2" x2="1270" y2="1765.8" stroke="#000" stroke-width="4"/>
<line x1="1255" y1="1763.8" x2="2003.4" y2="1763.8" stroke="#000" stroke-width="4"/>
<line x1="1255" y1="1597.67" x2="1270" y2="1597.67" stroke="#000" stroke-width="3.8"/>
<line x1="1255" y1="1431.54" x2="1270" y2="1431.54" stroke="#000" stroke-width="3.8"/>
<line x1="1255" y1="1265.41" x2="1270" y2="1265.41" stroke="#000" stroke-width="3.8"/>
<line x1="1255" y1="1099.28" x2="1270" y2="1099.28" stroke="#000" stroke-width="3.8"/>
<line x1="1255" y1="933.15" x2="1270" y2="933.15" stroke="#000" stroke-width="3.8"/>
<text transform="translate(1179.07 945) scale(0.9469 1)" font-size="35">50</text>
<text transform="translate(1175.82 1111.6) scale(1.0014 1)" font-size="35">40</text>
<text transform="translate(1178.62 1277.6) scale(0.9883 1)" font-size="35">30</text>
<text transform="translate(1176.45 1443.2) scale(0.9979 1)" font-size="35">20</text>
<text transform="translate(1185.4 1609.4) scale(0.9514 1)" font-size="35">10</text>
<text transform="translate(1200.37 1776) scale(0.9504 1)" font-size="35">0</text>
<rect x="1285.3" y="905.3" width="26.1" height="26.5" fill="#fff" stroke="#000" stroke-width="3"/>
<rect x="1285.2" y="947.5" width="25.7" height="24.9" fill="#808080"/>
<rect x="1285.2" y="987.5" width="25.7" height="25.5" fill="#000"/>
<text transform="translate(1322.65 926.9) scale(0.9861 1)" font-size="35.5">Control</text>
<text transform="translate(1322.62 969) scale(0.9950 1)" font-size="35.5">ABA 0.1 µM</text>
<text transform="translate(1322.62 1011.8) scale(0.9975 1)" font-size="35.5">ABA 1 µM</text>
<line x1="1714.1" y1="903.5" x2="1714.1" y2="1397.4" stroke="#000" stroke-width="3.9"/>
<line x1="1713" y1="906.5" x2="1896" y2="909" stroke="#000" stroke-width="4"/>
<line x1="1894.9" y1="907.5" x2="1894.9" y2="931.5" stroke="#000" stroke-width="4"/>
<line x1="1738.9" y1="1165.5" x2="1738.9" y2="1397.4" stroke="#000" stroke-width="3.9"/>
<line x1="1739.5" y1="1164.1" x2="1816" y2="1164.1" stroke="#000" stroke-width="4"/>
<line x1="1815.2" y1="1164" x2="1815.2" y2="1189.7" stroke="#000" stroke-width="4"/>
<text transform="translate(1731.5 887.2) scale(0.9507 1)" font-size="35.5">P≤0.0001</text>
<text transform="translate(1718.52 1099) scale(0.9792 1)" font-size="35.5">P=0.0049</text>
<text transform="translate(1888.8 973.3) scale(0.9511 0.8571)" font-size="35">**</text>
<text transform="translate(1814.74 1243.3) scale(0.8773 0.8571)" font-size="35">*</text>
<text transform="translate(1434.36 1807.6) scale(0.9640 1)" font-size="35.5">KO</text>
<text transform="translate(1739.31 1807.6) scale(0.9809 1)" font-size="35.5">RBG1res-NIL</text>
<text transform="translate(1134.3 1479.47) rotate(-90) scale(0.9740 1)" font-size="35.5">BSR severity (%)</text>
</g>
</svg>
</body>
</html>
